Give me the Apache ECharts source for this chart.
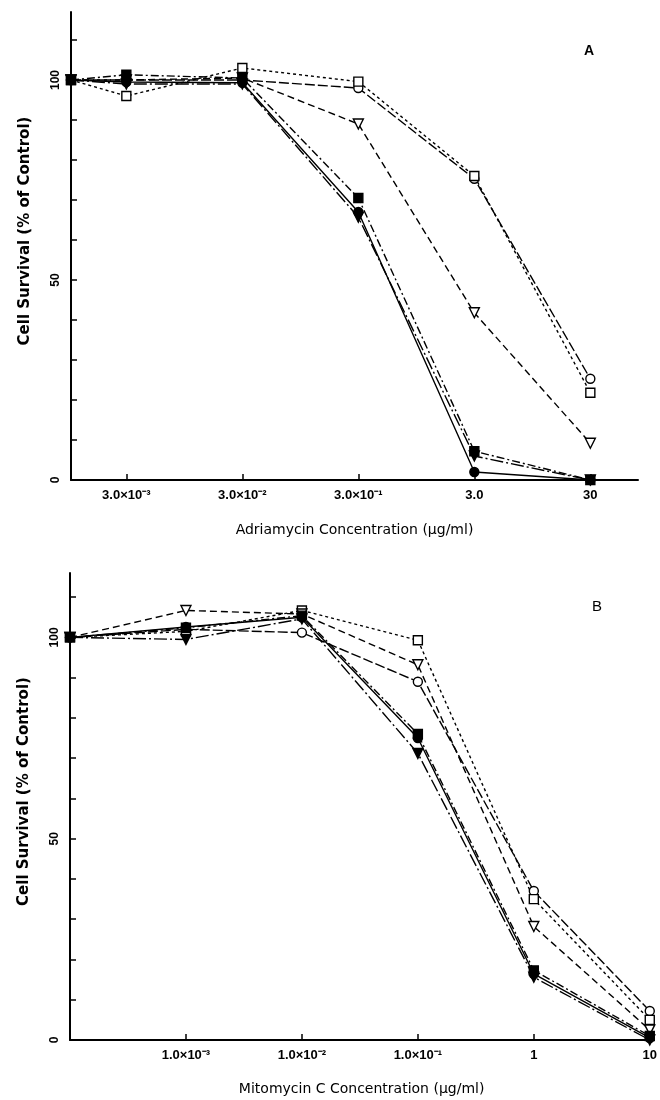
<!DOCTYPE html>
<html>
<head>
<meta charset="utf-8">
<script src="https://cdn.jsdelivr.net/npm/echarts@6.0.0/dist/echarts.min.js"></script>
<style>
  html, body { margin: 0; padding: 0; background: #fff; }
  #chart { width: 660px; height: 1100px; }
</style>
</head>
<body>
<div id="chart"></div>
<script>
// panel A: Adriamycin (first point = control, drawn at the axis)
var concA = [0.001, 0.003, 0.03, 0.3, 3, 30];
var tickConcA = [0.003, 0.03, 0.3, 3, 30];
var tickLabelsA = ['3.0×10⁻³', '3.0×10⁻²', '3.0×10⁻¹', '3.0', '30'];
var openCircleA   = [100, 100,   100,   98,   75.3, 25.3];
var openSquareA   = [100, 96,    103,   99.6, 76,   21.8];
var openTriA      = [100, 100,   100.5, 89,   41.8, 9.2];
var filledCircleA = [100, 99.5,  99.3,  67,   2,    0];
var filledSquareA = [100, 101.3, 100.5, 70.5, 7.2,  0];
var filledTriA    = [100, 99,    99,    65.7, 6,    0];

// panel B: Mitomycin C
var concB = [0.0001, 0.001, 0.01, 0.1, 1, 10];
var tickConcB = [0.001, 0.01, 0.1, 1, 10];
var tickLabelsB = ['1.0×10⁻³', '1.0×10⁻²', '1.0×10⁻¹', '1', '10'];
var openCircleB   = [100, 102,   101.2, 89,   37,   7.2];
var openSquareB   = [100, 101.5, 106.7, 99.3, 35,   5];
var openTriB      = [100, 106.7, 105.8, 93.2, 28.2, 2.5];
var filledCircleB = [100, 102.6, 105,   75,   16.4, 0.5];
var filledSquareB = [100, 102.4, 105.4, 76,   17.3, 1];
var filledTriB    = [100, 99.5,  104.6, 71.2, 15.6, 0];

var yTicks = [0, 10, 20, 30, 40, 50, 60, 70, 80, 90, 100, 110];
var yLabels = [0, 50, 100];

var styles = {
  openCircle:   { symbol: 'circle',   fill: '#fff', dash: [10, 3] },
  openSquare:   { symbol: 'rect',     fill: '#fff', dash: [3, 3] },
  openTri:      { symbol: 'triangle', fill: '#fff', dash: [7, 4] },
  filledCircle: { symbol: 'circle',   fill: '#000', dash: 'solid' },
  filledSquare: { symbol: 'rect',     fill: '#000', dash: [8, 3, 2, 3] },
  filledTri:    { symbol: 'triangle', fill: '#000', dash: [13, 3, 2, 3] }
};

function makeSeries(name, kind, conc, vals, idx) {
  var st = styles[kind];
  var pts = [];
  for (var i = 0; i < conc.length; i++) {
    pts.push([Math.log10(conc[i]), vals[i]]);
  }
  return {
    name: name,
    type: 'line',
    xAxisIndex: idx,
    yAxisIndex: idx,
    data: pts,
    symbol: st.symbol,
    symbolSize: st.symbol == 'triangle' ? 10 : 9,
    symbolRotate: st.symbol == 'triangle' ? 180 : 0,
    showAllSymbol: true,
    lineStyle: { color: '#000', width: 1.4, type: st.dash },
    itemStyle: { color: st.fill, borderColor: '#000', borderWidth: 1.4 },
    emphasis: { disabled: true },
    animation: false
  };
}

function xAxis(idx, min, max, ticks, labels, name, gap) {
  var vals = ticks.map(function (c) { return Math.log10(c); });
  return {
    type: 'value',
    gridIndex: idx,
    min: min,
    max: max,
    name: name,
    nameLocation: 'middle',
    nameGap: gap,
    nameTextStyle: { fontFamily: 'DejaVu Sans', fontSize: 14, color: '#000' },
    axisLine: { onZero: false, lineStyle: { color: '#000', width: 2 } },
    axisTick: { inside: true, length: 6, customValues: vals, lineStyle: { color: '#000', width: 1.5 } },
    axisLabel: {
      customValues: vals,
      margin: 9,
      fontFamily: 'Liberation Sans',
      fontWeight: 'bold',
      fontSize: 13,
      color: '#000',
      formatter: function (v) {
        for (var i = 0; i < vals.length; i++) {
          if (Math.abs(vals[i] - v) < 1e-6) return labels[i];
        }
        return '';
      }
    },
    splitLine: { show: false }
  };
}

function yAxis(idx, max) {
  return {
    type: 'value',
    gridIndex: idx,
    min: 0,
    max: max,
    name: 'Cell Survival (% of Control)',
    nameLocation: 'middle',
    nameRotate: 90,
    nameGap: 38,
    nameTextStyle: {
      fontFamily: 'DejaVu Sans', fontWeight: 'bold', fontSize: 15, color: '#000',
      padding: [0, 0, 0, 30]
    },
    axisLine: { show: true, onZero: false, lineStyle: { color: '#000', width: 2 } },
    axisTick: { show: true, inside: true, length: 6, customValues: yTicks, lineStyle: { color: '#000', width: 1.5 } },
    axisLabel: {
      customValues: yLabels,
      rotate: 90,
      margin: 9,
      fontFamily: 'Liberation Sans',
      fontWeight: 'bold',
      fontSize: 12,
      color: '#000'
    },
    splitLine: { show: false }
  };
}

var myChart = echarts.init(document.getElementById('chart'), null, { renderer: 'canvas' });

var option = {
  backgroundColor: '#fff',
  animation: false,
  grid: [
    { left: 71, right: 22, top: 12, height: 468 },
    { left: 70, right: 2, top: 573, height: 467 }
  ],
  xAxis: [
    xAxis(0, -3, 1.888, tickConcA, tickLabelsA, 'Adriamycin Concentration (μg/ml)', 43),
    xAxis(1, -4, 1.03, tickConcB, tickLabelsB, 'Mitomycin C Concentration (μg/ml)', 42)
  ],
  yAxis: [yAxis(0, 117), yAxis(1, 116)],
  graphic: [
    { type: 'text', left: 584, top: 44, style: { text: 'A', fontFamily: 'Liberation Sans', fontWeight: 'bold', fontSize: 14, fill: '#000' } },
    { type: 'text', left: 592, top: 599, style: { text: 'B', fontFamily: 'Liberation Sans', fontSize: 15, fill: '#000' } }
  ],
  series: [
    makeSeries('○ A', 'openCircle', concA, openCircleA, 0),
    makeSeries('□ A', 'openSquare', concA, openSquareA, 0),
    makeSeries('▽ A', 'openTri', concA, openTriA, 0),
    makeSeries('● A', 'filledCircle', concA, filledCircleA, 0),
    makeSeries('■ A', 'filledSquare', concA, filledSquareA, 0),
    makeSeries('▼ A', 'filledTri', concA, filledTriA, 0),
    makeSeries('○ B', 'openCircle', concB, openCircleB, 1),
    makeSeries('□ B', 'openSquare', concB, openSquareB, 1),
    makeSeries('▽ B', 'openTri', concB, openTriB, 1),
    makeSeries('● B', 'filledCircle', concB, filledCircleB, 1),
    makeSeries('■ B', 'filledSquare', concB, filledSquareB, 1),
    makeSeries('▼ B', 'filledTri', concB, filledTriB, 1)
  ]
};

myChart.setOption(option);
</script>
</body>
</html>
